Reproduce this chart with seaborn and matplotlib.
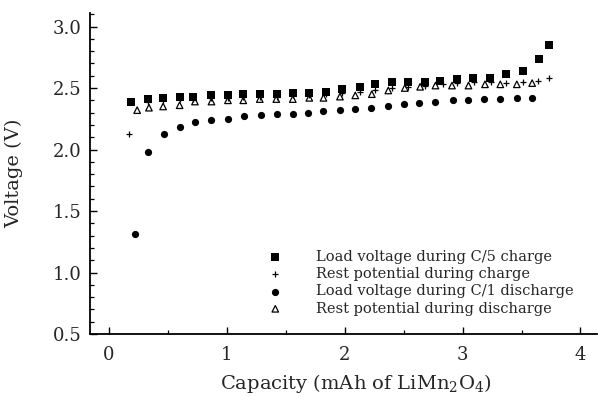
import matplotlib
matplotlib.use("Agg")
import matplotlib.pyplot as plt
import seaborn as sns
import pandas as pd
from matplotlib.ticker import MultipleLocator

# Load voltage during C/5 charge
charge_cap = [0.19, 0.33, 0.46, 0.60, 0.71, 0.87, 1.01, 1.14, 1.28, 1.43, 1.56, 1.70, 1.84, 1.98,
              2.13, 2.26, 2.40, 2.54, 2.68, 2.81, 2.95, 3.09, 3.23, 3.37, 3.51, 3.65, 3.73]
charge_v = [2.39, 2.41, 2.42, 2.43, 2.43, 2.44, 2.44, 2.45, 2.45, 2.45, 2.46, 2.46, 2.47, 2.49,
            2.51, 2.53, 2.55, 2.55, 2.55, 2.56, 2.57, 2.58, 2.58, 2.61, 2.64, 2.74, 2.85]

# Rest potential during charge
rest_c_cap = [0.17, 0.33, 0.46, 0.60, 0.71, 0.87, 1.01, 1.14, 1.28, 1.43, 1.56, 1.70, 1.84, 1.98,
              2.13, 2.26, 2.40, 2.54, 2.68, 2.83, 2.95, 3.10, 3.24, 3.37, 3.51, 3.64, 3.73]
rest_c_v = [2.13, 2.39, 2.40, 2.41, 2.41, 2.42, 2.42, 2.43, 2.43, 2.43, 2.44, 2.44, 2.45, 2.46,
            2.47, 2.48, 2.50, 2.51, 2.52, 2.53, 2.54, 2.55, 2.55, 2.54, 2.55, 2.56, 2.58]

# Load voltage during C/1 discharge
dis_cap = [0.22, 0.33, 0.47, 0.60, 0.73, 0.87, 1.01, 1.15, 1.29, 1.43, 1.56, 1.69, 1.82, 1.96,
           2.09, 2.22, 2.37, 2.50, 2.63, 2.77, 2.92, 3.05, 3.18, 3.32, 3.46, 3.59]
dis_v = [1.31, 1.98, 2.13, 2.18, 2.22, 2.24, 2.25, 2.27, 2.28, 2.29, 2.29, 2.30, 2.31, 2.32,
         2.33, 2.34, 2.35, 2.37, 2.38, 2.39, 2.40, 2.40, 2.41, 2.41, 2.42, 2.42]

# Rest potential during discharge
rest_d_cap = [0.24, 0.34, 0.46, 0.60, 0.73, 0.87, 1.01, 1.14, 1.28, 1.42, 1.56, 1.70, 1.82, 1.96,
              2.09, 2.23, 2.37, 2.51, 2.64, 2.77, 2.91, 3.05, 3.19, 3.32, 3.46, 3.59]
rest_d_v = [2.32, 2.34, 2.35, 2.36, 2.39, 2.39, 2.40, 2.40, 2.41, 2.41, 2.41, 2.42, 2.42, 2.43,
            2.44, 2.45, 2.48, 2.50, 2.51, 2.52, 2.52, 2.52, 2.53, 2.53, 2.53, 2.54]

labels = ["Load voltage during C/5 charge", "Rest potential during charge",
          "Load voltage during C/1 discharge", "Rest potential during discharge"]

sns.set_style("ticks")
plt.rcParams["font.family"] = ["DejaVu Serif"]
plt.rcParams["mathtext.fontset"] = "dejavuserif"

fig = plt.figure(figsize=(5.98, 3.97), dpi=100)
ax = fig.add_axes([90 / 598, 1 - 334 / 397, 507 / 598, 321 / 397])

sns.scatterplot(x=charge_cap, y=charge_v, marker="s", s=32, color="black",
                edgecolor="black", linewidth=0, label=labels[0], ax=ax, zorder=3)
sns.scatterplot(x=rest_c_cap, y=rest_c_v, marker="+", s=22, color="black",
                linewidth=0.9, label=labels[1], ax=ax, zorder=4)
sns.scatterplot(x=dis_cap, y=dis_v, marker="o", s=27, color="black",
                edgecolor="black", linewidth=0, label=labels[2], ax=ax, zorder=3)
sns.scatterplot(x=rest_d_cap, y=rest_d_v, marker="^", s=22, facecolor="none",
                edgecolor="black", linewidth=0.9, label=labels[3], ax=ax, zorder=2)

ax.set_xlim(-0.16, 4.14)
ax.set_ylim(0.5, 3.11)
ax.xaxis.set_major_locator(MultipleLocator(1))
ax.xaxis.set_minor_locator(MultipleLocator(0.5))
ax.yaxis.set_major_locator(MultipleLocator(0.5))
ax.yaxis.set_minor_locator(MultipleLocator(0.1))
ax.set_xticks([0, 1, 2, 3, 4])
ax.set_xticklabels(["0", "1", "2", "3", "4"])
ax.set_yticks([0.5, 1.0, 1.5, 2.0, 2.5, 3.0])
ax.set_yticklabels(["0.5", "1.0", "1.5", "2.0", "2.5", "3.0"])
ax.tick_params(which="major", direction="in", length=5, width=1, labelsize=13, color="black")
ax.tick_params(which="minor", direction="in", length=3, width=0.9, color="black")
ax.tick_params(axis="x", which="major", pad=9)
ax.tick_params(axis="y", which="major", pad=6)

sns.despine(ax=ax)
for sp in ("left", "bottom"):
    ax.spines[sp].set_linewidth(1.3)
    ax.spines[sp].set_color("black")

ax.set_xlabel(r"Capacity (mAh of LiMn$_2$O$_4$)", fontsize=14)
ax.set_ylabel("Voltage (V)", fontsize=14)
ax.xaxis.set_label_coords(0.525, -0.118)
ax.yaxis.set_label_coords(-0.132, 0.5)

leg = ax.legend(loc="upper left", bbox_to_anchor=(268 / 598, 1 - 250 / 397),
                bbox_transform=fig.transFigure, frameon=False, fontsize=10.5,
                handlelength=1.0, handletextpad=2.3, borderpad=0, labelspacing=0.22,
                borderaxespad=0)

fig.savefig("out.png", dpi=100)
